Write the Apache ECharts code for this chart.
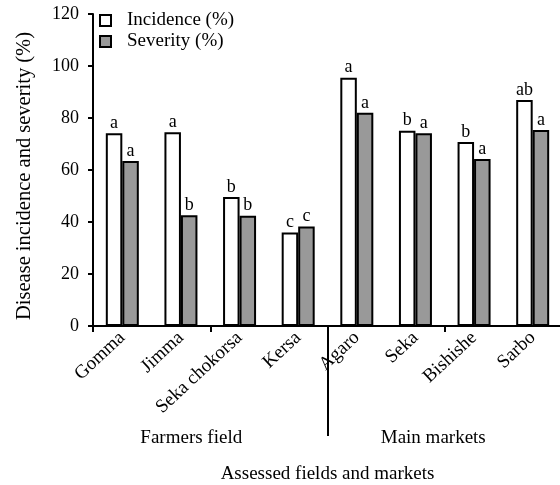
<!DOCTYPE html>
<html><head><meta charset="utf-8">
<script src="https://cdn.jsdelivr.net/npm/echarts@6/dist/echarts.min.js"></script>
<style>html,body{margin:0;padding:0;background:#fff}#c{width:560px;height:485px}</style>
</head><body><div id="c"></div>
<script>
const categories = ['Gomma','Jimma','Seka chokorsa','Kersa','Agaro','Seka','Bishishe','Sarbo'];
const groups = ['Farmers field','Main markets'];
const incidence = [74.1, 74.5, 49.6, 36.0, 95.5, 75.1, 70.8, 86.9];
const severity = [63.5, 42.6, 42.4, 38.3, 82.0, 74.1, 64.2, 75.4];
const incidenceLetters = ['a','a','b','c','a','b','b','ab'];
const severityLetters = ['a','b','b','c','a','a','a','a'];
const yTicks = [0,20,40,60,80,100,120];

const F = 'Liberation Serif';
const plotLeft = 93, plotTop = 14, plotWidth = 469, plotHeight = 312;
const bandW = plotWidth / categories.length;
const chart = echarts.init(document.getElementById('c'), null, {renderer:'canvas'});
chart.setOption({
  animation:false,
  textStyle:{fontFamily:F, color:'#000'},
  grid:[
    {left:plotLeft, top:plotTop, width:plotWidth, height:plotHeight, containLabel:false, outerBoundsMode:'none'},
    {left:plotLeft + 4*bandW, top:plotTop, width:400, height:plotHeight, containLabel:false, outerBoundsMode:'none'}
  ],
  legend:{
    orient:'vertical', left:94, top:6, itemWidth:11, itemHeight:11, itemGap:2,
    icon:'rect',
    textStyle:{fontFamily:F, fontSize:19, color:'#000', padding:[0,0,0,11]},
    data:['Incidence (%)','Severity (%)']
  },
  xAxis:[{
    type:'category', data:categories, position:'bottom', gridIndex:0,
    axisLine:{lineStyle:{color:'#000', width:2}},
    axisTick:{show:true, length:6, interval:(i)=>i%2===0, lineStyle:{color:'#000', width:2}},
    axisLabel:{interval:0, rotate:43, fontFamily:F, fontSize:19, color:'#000', margin:9},
    name:'Assessed fields and markets', nameLocation:'middle', nameGap:139,
    nameTextStyle:{fontFamily:F, fontSize:19, color:'#000'}
  },{
    type:'category', data:groups, position:'bottom', gridIndex:0,
    axisLine:{show:false}, axisTick:{show:false},
    axisLabel:{interval:0, fontFamily:F, fontSize:19, color:'#000', margin:103,
      formatter:(v,i)=> i===0 ? '{a|'+v+'}' : '{b|'+v+'}',
      rich:{
        a:{fontFamily:F, fontSize:19, color:'#000', padding:[0,38,0,0]},
        b:{fontFamily:F, fontSize:19, color:'#000', padding:[0,23,0,0]}
      }}
  },{
    type:'category', data:[''], position:'bottom', gridIndex:1,
    axisLine:{show:false}, axisLabel:{show:false},
    axisTick:{show:true, length:110, lineStyle:{color:'#000', width:2}}
  }],
  yAxis:[{
    type:'value', min:0, max:120, interval:20, gridIndex:0,
    axisLine:{show:true, lineStyle:{color:'#000', width:2}},
    axisTick:{show:true, length:5, lineStyle:{color:'#000', width:2}},
    splitLine:{show:false},
    axisLabel:{fontFamily:F, fontSize:18, color:'#000', margin:14,
      formatter:(v)=>yTicks.includes(v)?String(v):''},
    name:'Disease incidence and severity (%)', nameLocation:'middle', nameGap:58,
    nameTextStyle:{fontFamily:F, fontSize:20.5, color:'#000', padding:[0,12,0,0]}
  },{
    type:'value', min:0, max:120, gridIndex:1, show:false
  }],
  series:[{
    name:'Incidence (%)', type:'bar', xAxisIndex:0, yAxisIndex:0, data:incidence, barWidth:16.5, barGap:'0%',
    itemStyle:{color:'#fff', borderColor:'#000', borderWidth:2},
    label:{show:true, position:'top', distance:1, fontFamily:F, fontSize:18, color:'#000',
      formatter:(p)=>incidenceLetters[p.dataIndex]}
  },{
    name:'Severity (%)', type:'bar', xAxisIndex:0, yAxisIndex:0, data:severity, barWidth:16.5, barGap:'0%',
    itemStyle:{color:'#999999', borderColor:'#000', borderWidth:2},
    label:{show:true, position:'top', distance:1, fontFamily:F, fontSize:18, color:'#000',
      formatter:(p)=>severityLetters[p.dataIndex]}
  }]
});
</script></body></html>
